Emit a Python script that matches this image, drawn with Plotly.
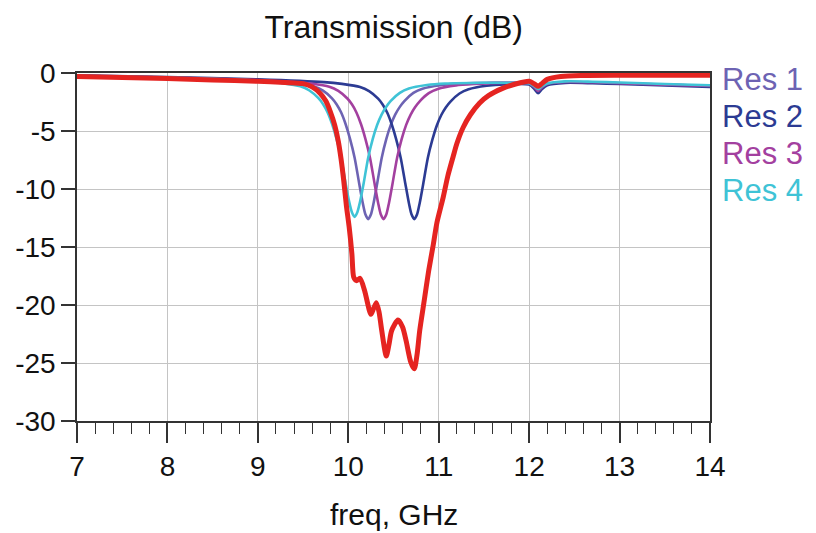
import plotly.graph_objects as go

# ---- Transmission data (dB) versus frequency (GHz) ----
res4_f = [7, 8, 9, 9.07, 9.27, 9.47, 9.57, 9.67, 9.72, 9.77, 9.82, 9.87, 9.92, 9.97, 10.01, 10.04,
          10.07, 10.10, 10.13, 10.17, 10.22, 10.27, 10.32, 10.37, 10.42, 10.47, 10.57, 10.67, 10.87,
          11.07, 11.5, 11.9, 12.0, 12.06, 12.1, 12.14, 12.2, 12.4, 12.7, 13.0, 13.5, 14.0]
res4_db = [-0.25, -0.4, -0.66, -0.74, -0.88, -1.15, -1.51, -2.17, -2.68, -3.38, -4.39, -5.69, -7.29,
           -9.5, -11.1, -12.0, -12.4, -12.0, -11.1, -9.5, -7.3, -5.7, -4.46, -3.56, -2.91, -2.41,
           -1.72, -1.34, -1.04, -0.91, -0.84, -0.85, -0.88, -1.15, -1.4, -1.15, -0.9, -0.72, -0.75,
           -0.82, -0.95, -1.05]

res1_f = [7, 8, 9, 9.22, 9.42, 9.62, 9.72, 9.82, 9.87, 9.92, 9.97, 10.02, 10.07, 10.12, 10.16, 10.19,
          10.22, 10.25, 10.28, 10.32, 10.37, 10.42, 10.47, 10.52, 10.57, 10.62, 10.72, 10.82, 11.02,
          11.22, 11.6, 12.0, 12.06, 12.1, 12.14, 12.2, 12.4, 12.7, 13.0, 13.5, 14.0]
res1_db = [-0.25, -0.4, -0.65, -0.75, -0.89, -1.16, -1.52, -2.18, -2.69, -3.39, -4.4, -5.7, -7.3,
           -9.5, -11.2, -12.2, -12.6, -12.2, -11.2, -9.5, -7.3, -5.7, -4.47, -3.57, -2.92, -2.42,
           -1.72, -1.35, -1.05, -0.92, -0.85, -0.92, -1.25, -1.55, -1.25, -0.95, -0.78, -0.8,
           -0.88, -1.0, -1.12]

res3_f = [7, 8, 9, 9.39, 9.59, 9.79, 9.89, 9.99, 10.04, 10.09, 10.14, 10.19, 10.24, 10.29, 10.33, 10.36,
          10.39, 10.42, 10.45, 10.49, 10.54, 10.59, 10.64, 10.69, 10.74, 10.79, 10.89, 10.99, 11.19,
          11.39, 11.7, 12.0, 12.06, 12.1, 12.14, 12.2, 12.4, 12.7, 13.0, 13.5, 14.0]
res3_db = [-0.25, -0.4, -0.62, -0.77, -0.91, -1.18, -1.54, -2.2, -2.7, -3.4, -4.4, -5.7, -7.3, -9.5,
           -11.2, -12.2, -12.6, -12.2, -11.2, -9.5, -7.3, -5.7, -4.47, -3.58, -2.93, -2.44, -1.74,
           -1.37, -1.07, -0.95, -0.85, -0.9, -1.25, -1.55, -1.25, -0.95, -0.78, -0.8, -0.88, -1.0,
           -1.12]

res2_f = [7, 8, 9, 9.73, 9.93, 10.13, 10.23, 10.33, 10.38, 10.43, 10.48, 10.53, 10.58, 10.63, 10.67,
          10.70, 10.73, 10.76, 10.79, 10.83, 10.88, 10.93, 10.98, 11.03, 11.08, 11.13, 11.23, 11.33,
          11.53, 11.73, 12.0, 12.06, 12.1, 12.14, 12.2, 12.4, 12.7, 13.0, 13.5, 14.0]
res2_db = [-0.2, -0.35, -0.55, -0.79, -0.94, -1.2, -1.56, -2.21, -2.71, -3.41, -4.42, -5.72, -7.32,
           -9.5, -11.2, -12.2, -12.6, -12.2, -11.2, -9.5, -7.3, -5.75, -4.5, -3.6, -2.95, -2.46,
           -1.77, -1.4, -1.1, -0.98, -1.0, -1.4, -1.75, -1.4, -1.05, -0.85, -0.88, -0.95, -1.08,
           -1.2]

filter_f = [7, 7.5, 8, 8.5, 9, 9.3, 9.5, 9.6, 9.69, 9.75, 9.8, 9.85, 9.89, 9.92, 9.95, 9.98, 10.01,
            10.04, 10.06, 10.09, 10.13, 10.18, 10.25, 10.28, 10.31, 10.34, 10.37, 10.42, 10.45, 10.48,
            10.55, 10.6, 10.64, 10.69, 10.73, 10.76, 10.79, 10.84, 10.89, 10.94, 10.98, 11.05, 11.1,
            11.16, 11.2, 11.27, 11.35, 11.45, 11.55, 11.7, 11.85, 12.0, 12.06, 12.1, 12.15, 12.2,
            12.35, 12.6, 13.0, 13.5, 14.0]
filter_db = [-0.3, -0.38, -0.48, -0.6, -0.72, -0.82, -0.92, -1.2, -1.76, -2.4, -3.3, -4.5, -5.9, -7.4,
             -9.3, -11.5, -13.3, -15.6, -17.6, -17.9, -17.7, -18.75, -20.8, -20.3, -19.8, -20.6,
             -22.2, -24.4, -23.4, -22.2, -21.3, -21.9, -23.1, -24.9, -25.5, -24.3, -22.2, -19.6,
             -17.0, -14.8, -12.9, -10.7, -8.9, -7.2, -6.1, -4.7, -3.6, -2.6, -1.95, -1.35, -0.95,
             -0.72, -0.95, -1.15, -0.85, -0.55, -0.3, -0.22, -0.2, -0.2, -0.2]

labels = ["Res 1", "Res 2", "Res 3", "Res 4"]
colors = ["#6d63b3", "#2c3b93", "#a3409f", "#3fc3d6"]
red = "#e52421"

x_ticks = [7, 8, 9, 10, 11, 12, 13, 14]
x_minor = [round(7 + k * 0.2, 1) for k in range(36) if k % 5 != 0]
y_ticks = [0, -5, -10, -15, -20, -25, -30]
y_text = ["0", "-5", "-10", "-15", "-20", "-25", "-30"]

FONT = "Liberation Sans, Arial, sans-serif"

fig = go.Figure()
series = [(res1_f, res1_db), (res2_f, res2_db), (res3_f, res3_db), (res4_f, res4_db)]
for (f, db), name, c in zip(series, labels, colors):
    fig.add_trace(go.Scatter(x=f, y=db, mode="lines", name=name,
                             line=dict(color=c, width=2.6, shape="spline", smoothing=0.7)))
fig.add_trace(go.Scatter(x=filter_f, y=filter_db, mode="lines", name="Filter",
                         line=dict(color=red, width=5, shape="spline", smoothing=0.7)))

# text-only legend on the right
for i, (name, c) in enumerate(zip(labels, colors)):
    fig.add_annotation(text=name, xref="paper", yref="paper", x=1.016, y=0.98 - i * 0.1063,
                       xanchor="left", yanchor="middle", showarrow=False,
                       font=dict(family=FONT, size=31, color=c))

fig.add_annotation(text="freq, GHz", xref="paper", yref="paper", x=0.5, y=-0.268,
                   xanchor="center", yanchor="middle", showarrow=False,
                   font=dict(family=FONT, size=30, color="#111"))

fig.update_layout(
    width=816, height=533,
    margin=dict(l=77, r=106, t=73, b=112),
    paper_bgcolor="white", plot_bgcolor="white",
    showlegend=False,
    title=dict(text="Transmission (dB)", x=0.4825, xanchor="center", y=1 - 27 / 533,
               yanchor="middle", yref="container",
               font=dict(family=FONT, size=32, color="#111")),
    xaxis=dict(range=[7, 14], tickvals=x_ticks, ticks="outside", ticklen=20,
               tickwidth=1.5, tickcolor="#333", showline=True, linecolor="#333", linewidth=1.5,
               mirror=True, showgrid=True, gridcolor="#c4c4c4", gridwidth=1, zeroline=False,
               tickfont=dict(family=FONT, size=28, color="#111"),
               minor=dict(tickmode="array", tickvals=x_minor, ticks="outside", ticklen=11,
                          tickwidth=1.2, tickcolor="#333", showgrid=False)),
    yaxis=dict(range=[-30, 0], tickvals=y_ticks, ticktext=y_text, ticks="outside", ticklen=14,
               tickwidth=1.5, tickcolor="#333", showline=True, linecolor="#333", linewidth=1.5,
               mirror=True, showgrid=True, gridcolor="#c4c4c4", gridwidth=1, zeroline=False,
               tickfont=dict(family=FONT, size=28, color="#111")),
)

fig.write_html("out.html")
